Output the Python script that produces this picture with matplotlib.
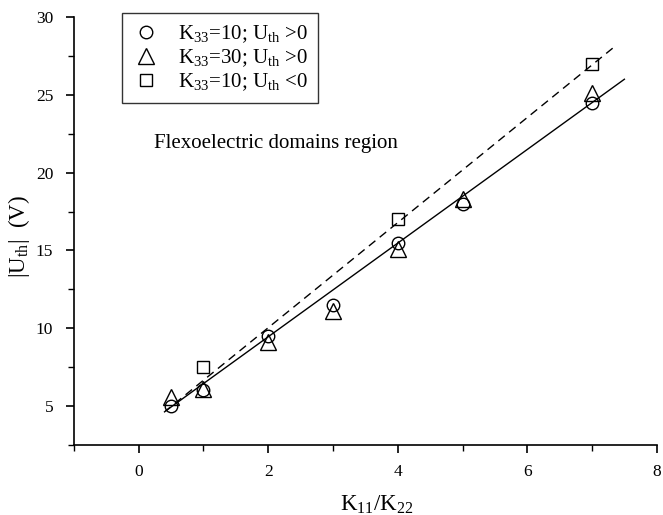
import matplotlib
matplotlib.use("Agg")
import matplotlib.pyplot as plt
from matplotlib.ticker import MultipleLocator

plt.rcParams["font.family"] = ["Liberation Serif", "DejaVu Serif"]
plt.rcParams["mathtext.fontset"] = "custom"
plt.rcParams["mathtext.rm"] = "Liberation Serif"
plt.rcParams["mathtext.it"] = "Liberation Serif:italic"

# K33=10, Uth>0
circle_x = [0.5, 1, 2, 3, 4, 5, 7]
circle_y = [5.0, 6.0, 9.5, 11.5, 15.5, 18.0, 24.5]
# K33=30, Uth>0
triangle_x = [0.5, 1, 2, 3, 4, 5, 7]
triangle_y = [5.6, 6.1, 9.1, 11.1, 15.1, 18.3, 25.1]
# K33=10, Uth<0
square_x = [1, 4, 7]
square_y = [7.5, 17.0, 27.0]

# fitted lines (end points)
solid_x = [0.42, 7.5]
solid_y = [4.7, 26.0]
dashed_x = [0.39, 7.35]
dashed_y = [4.6, 28.1]

fig = plt.figure(figsize=(6.63, 5.15), dpi=100)
ax = fig.add_axes([0.1116, 0.136, 0.879, 0.831])

ax.plot(solid_x, solid_y, color="black", linewidth=1.0, linestyle="-")
ax.plot(dashed_x, dashed_y, color="black", linewidth=1.0, linestyle=(0, (6, 4)))

mk = dict(linestyle="none", markerfacecolor="none", markeredgecolor="black", markeredgewidth=1.0)
ax.plot(circle_x, circle_y, marker="o", markersize=9, label=r"K$_{33}$=10; U$_{\rm th}$ >0", **mk)
ax.plot(triangle_x, triangle_y, marker="^", markersize=11, label=r"K$_{33}$=30; U$_{\rm th}$ >0", **mk)
ax.plot(square_x, square_y, marker="s", markersize=8, label=r"K$_{33}$=10; U$_{\rm th}$ <0", **mk)

ax.text(0.23, 21.9, "Flexoelectric domains region", fontsize=15, va="center", ha="left")

ax.set_xlim(-1, 8)
ax.set_ylim(2.5, 30)
ax.xaxis.set_major_locator(MultipleLocator(2))
ax.xaxis.set_minor_locator(MultipleLocator(1))
ax.yaxis.set_major_locator(MultipleLocator(5))
ax.yaxis.set_minor_locator(MultipleLocator(2.5))
ax.set_yticks([5, 10, 15, 20, 25, 30])
ax.spines["top"].set_visible(False)
ax.spines["right"].set_visible(False)
ax.tick_params(which="major", direction="out", length=6, width=1.2, labelsize=12.5)
ax.tick_params(axis="y", which="major", pad=9)
ax.tick_params(axis="x", which="major", pad=8)
ax.tick_params(which="minor", direction="out", length=4, width=1.0)
for s in ("left", "bottom"):
    ax.spines[s].set_linewidth(1.2)

ax.set_xlabel(r"K$_{11}$/K$_{22}$", fontsize=16.5)
ax.set_ylabel(r"|U$_{\rm th}$|  (V)", fontsize=16.5)
ax.xaxis.set_label_coords(0.52, -0.115)
ax.yaxis.set_label_coords(-0.072, 0.488)

leg = ax.legend(loc="upper left", bbox_to_anchor=(0.082, 1.01), fontsize=15, frameon=True,
                fancybox=False, edgecolor="black", handletextpad=0.9, borderpad=0.5,
                labelspacing=0.12, handlelength=1.3, borderaxespad=0)
leg.get_frame().set_linewidth(1.0)

fig.savefig("out.png", dpi=100)
